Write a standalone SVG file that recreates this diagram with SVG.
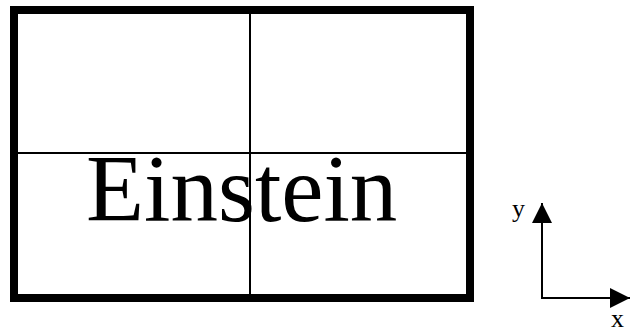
<svg xmlns="http://www.w3.org/2000/svg" width="632" height="334" viewBox="0 0 632 334">
<style>
.t{font-family:"Liberation Serif","Times New Roman",serif;fill:#000}
.ln{stroke:#000;stroke-width:2;fill:none}
</style>
<defs>
<marker id="ah" viewBox="0 0 20 20" refX="20" refY="10" markerWidth="20" markerHeight="20" markerUnits="userSpaceOnUse" orient="auto">
<path d="M0,0 L20,10 L0,20 Z" fill="#000"/>
</marker>
</defs>
<rect width="632" height="334" fill="#fff"/>
<g id="frame">
<rect x="14" y="10" width="456" height="288" fill="#fff" stroke="#000" stroke-width="8"/>
<line class="ln" x1="250" y1="14" x2="250" y2="294"/>
<line class="ln" x1="18" y1="153" x2="466" y2="153"/>
<text class="t" x="86" y="221" font-size="95">Einstein</text>
</g>
<g id="axes">
<path class="ln" d="M542,298 L542,203" marker-end="url(#ah)"/>
<path class="ln" d="M541,298 L630,298" marker-end="url(#ah)"/>
<text class="t" x="512" y="217" font-size="26">y</text>
<text class="t" x="611" y="327" font-size="26">x</text>
</g>
</svg>
